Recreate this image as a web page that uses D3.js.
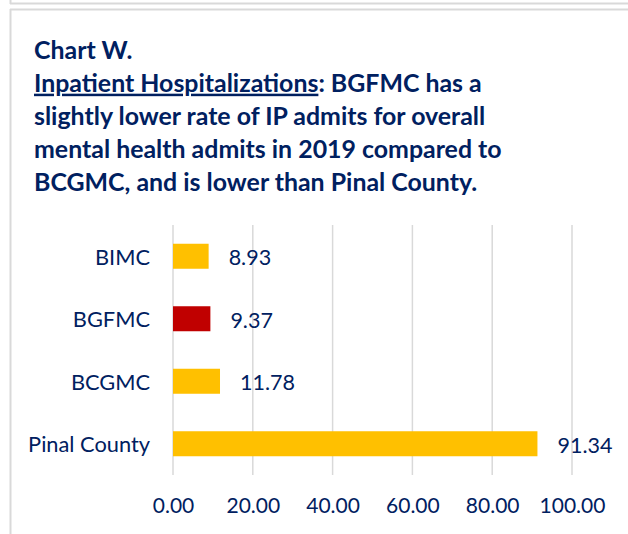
<!DOCTYPE html>
<html><head><meta charset="utf-8">
<script src="https://cdn.jsdelivr.net/npm/d3@7"></script>
<style>
html,body{margin:0;padding:0;background:#fff;}
svg{display:block;}
</style></head>
<body>
<svg id="chart" width="628" height="534"></svg>
<script>
const categories = ["BIMC", "BGFMC", "BCGMC", "Pinal County"];
const values = [8.93, 9.37, 11.78, 91.34];
const highlight = ["BGFMC"];
const tickValues = [0, 20, 40, 60, 80, 100];
const titleLines = [
  [{t:"Chart W.", u:false}],
  [{t:"Inpatient Hospitalizations", u:true}, {t:": BGFMC has a", u:false}],
  [{t:"slightly lower rate of IP admits for overall", u:false}],
  [{t:"mental health admits in 2019 compared to", u:false}],
  [{t:"BCGMC, and is lower than Pinal County.", u:false}]
];

const navy = "#002060";
const font = "Lato, 'Open Sans', sans-serif";
const svg = d3.select("#chart");

// frame
const frame = "#d9d9d9";
svg.append("line").attr("x1",10.5).attr("x2",10.5).attr("y1",0).attr("y2",4).attr("stroke",frame).attr("stroke-width",2);
svg.append("line").attr("x1",10).attr("x2",628).attr("y1",3.5).attr("y2",3.5).attr("stroke",frame).attr("stroke-width",2);
svg.append("line").attr("x1",10).attr("x2",628).attr("y1",9.5).attr("y2",9.5).attr("stroke",frame).attr("stroke-width",2);
svg.append("line").attr("x1",10.5).attr("x2",10.5).attr("y1",9).attr("y2",534).attr("stroke",frame).attr("stroke-width",2);

// title
const title = svg.append("text").attr("font-family",font).attr("font-weight","bold")
  .attr("font-size",24.9).attr("fill",navy);
titleLines.forEach((line,i)=>{
  const tl = title.append("tspan").attr("x",34).attr("y",58.5 + i*33.2);
  line.forEach(seg=>{
    tl.append("tspan").text(seg.t).attr("text-decoration", seg.u ? "underline" : null);
  });
});

const x = d3.scaleLinear().domain([0,100]).range([173,572]);
const y = d3.scaleBand().domain(categories).range([225,475]).paddingInner(0.6).paddingOuter(0.3);

// gridlines
svg.append("g").selectAll("line").data(tickValues).join("line")
  .attr("x1",d=>x(d)).attr("x2",d=>x(d)).attr("y1",225).attr("y2",475)
  .attr("stroke","#d9d9d9").attr("stroke-width",1.5);

// bars
svg.append("g").selectAll("rect").data(categories).join("rect")
  .attr("x",x(0)).attr("y",d=>y(d)).attr("height",y.bandwidth())
  .attr("width",(d,i)=>x(values[i])-x(0))
  .attr("fill",d=>highlight.includes(d)?"#C00000":"#FFC000");

// value labels
svg.append("g").selectAll("text").data(categories).join("text")
  .attr("x",(d,i)=>x(values[i])+20).attr("y",d=>y(d)+y.bandwidth()/2+1.5)
  .attr("dy","0.35em").attr("font-family",font).attr("font-size",21.5).attr("fill",navy)
  .text((d,i)=>values[i].toFixed(2));

// y axis labels
const yAxis = d3.axisLeft(y).tickSize(0).tickPadding(23);
const gy = svg.append("g").attr("transform",`translate(${x(0)},1.5)`).call(yAxis);
gy.select(".domain").remove();
gy.selectAll("text").attr("font-family",font).attr("font-size",21.8).attr("fill",navy);

// x axis labels
const xAxis = d3.axisBottom(x).tickValues(tickValues).tickFormat(d3.format(".2f")).tickSize(0).tickPadding(16);
const gx = svg.append("g").attr("transform","translate(0,482)").call(xAxis);
gx.select(".domain").remove();
gx.selectAll("text").attr("font-family",font).attr("font-size",21).attr("fill",navy);
</script>
</body></html>
